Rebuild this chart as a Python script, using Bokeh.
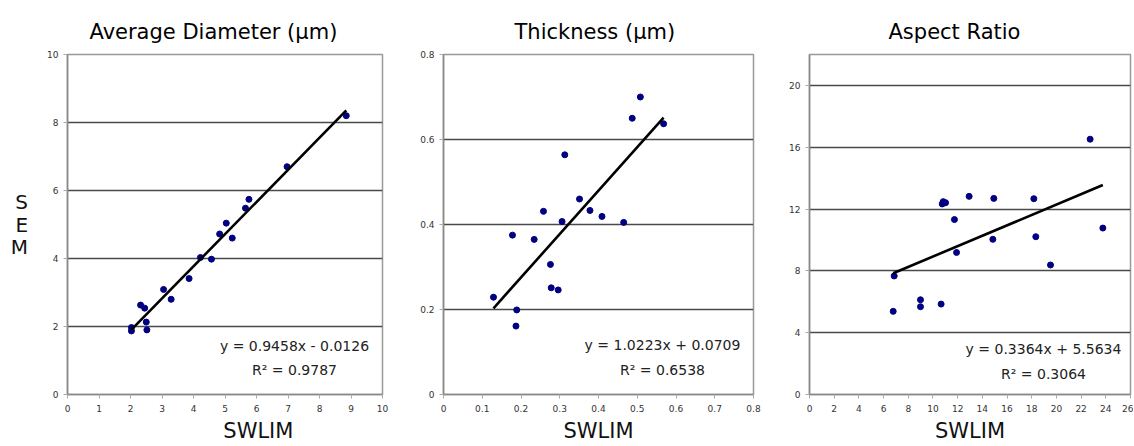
from bokeh.plotting import figure
from bokeh.layouts import row
from bokeh.models import Range1d, FixedTicker, Label, Title
from bokeh.embed import file_html
from bokeh.resources import INLINE

# ---------------- data ----------------
titles = ["Average Diameter (µm)", "Thickness (µm)", "Aspect Ratio"]
x_title = "SWLIM"
y_title = "SEM"

diam_swlim = [2.03, 2.03, 2.32, 2.45, 2.50, 2.52, 3.05, 3.29, 3.86, 4.22, 4.57, 4.83, 5.04, 5.23, 5.65, 5.76, 6.97, 8.85]
diam_sem = [1.97, 1.87, 2.63, 2.54, 2.13, 1.90, 3.09, 2.80, 3.41, 4.03, 3.98, 4.72, 5.04, 4.60, 5.48, 5.74, 6.70, 8.20]

thick_swlim = [0.129, 0.178, 0.189, 0.187, 0.234, 0.258, 0.276, 0.278, 0.296, 0.306, 0.313, 0.351, 0.378, 0.409, 0.465, 0.487, 0.508, 0.568]
thick_sem = [0.229, 0.375, 0.199, 0.161, 0.365, 0.431, 0.306, 0.251, 0.246, 0.407, 0.564, 0.460, 0.433, 0.419, 0.405, 0.650, 0.700, 0.637]

ar_swlim = [6.78, 6.86, 8.99, 8.99, 10.66, 10.75, 10.83, 11.02, 11.74, 11.91, 12.93, 14.85, 14.93, 18.17, 18.33, 19.52, 22.73, 23.76]
ar_sem = [5.38, 7.67, 6.13, 5.68, 5.85, 12.33, 12.48, 12.41, 11.32, 9.19, 12.82, 10.04, 12.69, 12.67, 10.21, 8.38, 16.52, 10.77]

slopes = [0.9458, 1.0223, 0.3364]
intercepts = [-0.0126, 0.0709, 5.5634]
equations = ["y = 0.9458x - 0.0126", "y = 1.0223x + 0.0709", "y = 0.3364x + 5.5634"]
r2_texts = ["R² = 0.9787", "R² = 0.6538", "R² = 0.3064"]

diam_xticks = [0, 1, 2, 3, 4, 5, 6, 7, 8, 9, 10]
diam_xlabels = ["0", "1", "2", "3", "4", "5", "6", "7", "8", "9", "10"]
diam_yticks = [0, 2, 4, 6, 8, 10]
diam_ylabels = ["0", "2", "4", "6", "8", "10"]

thick_xticks = [0, 0.1, 0.2, 0.3, 0.4, 0.5, 0.6, 0.7, 0.8]
thick_xlabels = ["0", "0.1", "0.2", "0.3", "0.4", "0.5", "0.6", "0.7", "0.8"]
thick_yticks = [0, 0.2, 0.4, 0.6, 0.8]
thick_ylabels = ["0", "0.2", "0.4", "0.6", "0.8"]

ar_xticks = [0, 2, 4, 6, 8, 10, 12, 14, 16, 18, 20, 22, 24, 26]
ar_xlabels = ["0", "2", "4", "6", "8", "10", "12", "14", "16", "18", "20", "22", "24", "26"]
ar_yticks = [0, 4, 8, 12, 16, 20]
ar_ylabels = ["0", "4", "8", "12", "16", "20"]

x_max = [10, 0.8, 26]
y_max = [10, 0.8, 22]

FONT = "DejaVu Sans"
FRAME_H = 341
TOP = 54
BOTTOM = 50


def add_label(p, text, x, y, size, align="center", baseline="alphabetic", color="black"):
    p.add_layout(Label(x=x, y=y, x_units="screen", y_units="screen", text=text,
                       text_font=FONT, text_font_size=size, text_align=align,
                       text_baseline=baseline, text_color=color))


def panel(i, xs, ys, xticks, xlabels, yticks, ylabels, frame_w, bl, br,
          title_off, xlab_pad, eq_x, eq_y, r2_y, sem=False):
    p = figure(width=bl + frame_w + br, height=TOP + FRAME_H + BOTTOM,
               min_border_left=bl, min_border_right=br,
               min_border_top=TOP, min_border_bottom=BOTTOM,
               x_range=Range1d(0, x_max[i]), y_range=Range1d(0, y_max[i]),
               output_backend="svg", toolbar_location=None, tools="")
    p.background_fill_color = "white"
    p.border_fill_color = "white"
    p.outline_line_color = "#999999"
    p.outline_line_width = 1.5

    p.add_layout(Title(text=titles[i], align="left", offset=title_off, standoff=21,
                       text_font=FONT, text_font_size="21px",
                       text_font_style="normal", text_color="black"), "above")

    for ax in (p.xaxis[0], p.yaxis[0]):
        ax.axis_line_color = "#888888"
        ax.axis_line_width = 1.5
        ax.major_tick_line_color = "#aaaaaa"
        ax.major_tick_out = 4
        ax.major_tick_in = 0
        ax.minor_tick_line_color = None
        ax.major_label_text_font = FONT
        ax.major_label_text_font_size = "9px"
        ax.major_label_text_color = "#333333"
        ax.axis_label_text_font = FONT
        ax.axis_label_text_font_style = "normal"
        ax.axis_label_text_color = "#111111"
    p.xaxis.ticker = FixedTicker(ticks=xticks)
    p.xaxis.major_label_overrides = dict(zip(xticks, xlabels))
    p.yaxis.ticker = FixedTicker(ticks=yticks)
    p.yaxis.major_label_overrides = dict(zip(yticks, ylabels))
    p.xaxis.major_label_standoff = 6
    p.yaxis.major_label_standoff = 5

    p.xaxis.axis_label = "\u00a0" * xlab_pad + x_title
    p.xaxis.axis_label_text_font_size = "21px"
    p.xaxis.axis_label_standoff = 4
    if sem:
        p.yaxis.axis_label = "\n".join(y_title)
        p.yaxis.axis_label_orientation = "horizontal"
        p.yaxis.axis_label_text_font_size = "20px"
        p.yaxis.axis_label_text_line_height = 0.94
        p.yaxis.axis_label_standoff = 16

    p.xgrid.visible = False
    p.ygrid.ticker = FixedTicker(ticks=[t for t in yticks if 0 < t < y_max[i]])
    p.ygrid.grid_line_color = "#4a4a4a"
    p.ygrid.grid_line_width = 1.6

    p.scatter(xs, ys, size=6, fill_color="#000080", line_color="#000080")
    x0, x1 = min(xs), max(xs)
    p.line([x0, x1], [slopes[i] * x0 + intercepts[i], slopes[i] * x1 + intercepts[i]],
           line_color="black", line_width=2.6)

    add_label(p, equations[i], eq_x, eq_y, "14px", baseline="middle", color="#222222")
    add_label(p, r2_texts[i], eq_x, r2_y, "14px", baseline="middle", color="#222222")
    return p


p1 = panel(0, diam_swlim, diam_sem, diam_xticks, diam_xlabels, diam_yticks, diam_ylabels,
           315, 67, 18, 22, 10, 227, 49, 25, sem=True)
p2 = panel(1, thick_swlim, thick_sem, thick_xticks, thick_xlabels, thick_yticks, thick_ylabels,
           310, 43, 26, 71, 0, 219, 50, 25)
p3 = panel(2, ar_swlim, ar_sem, ar_xticks, ar_xlabels, ar_yticks, ar_ylabels,
           321, 30, 3, 79, 0, 234, 46, 21)

layout = row(p1, p2, p3)
open("out.html", "w").write(file_html(layout, INLINE))
